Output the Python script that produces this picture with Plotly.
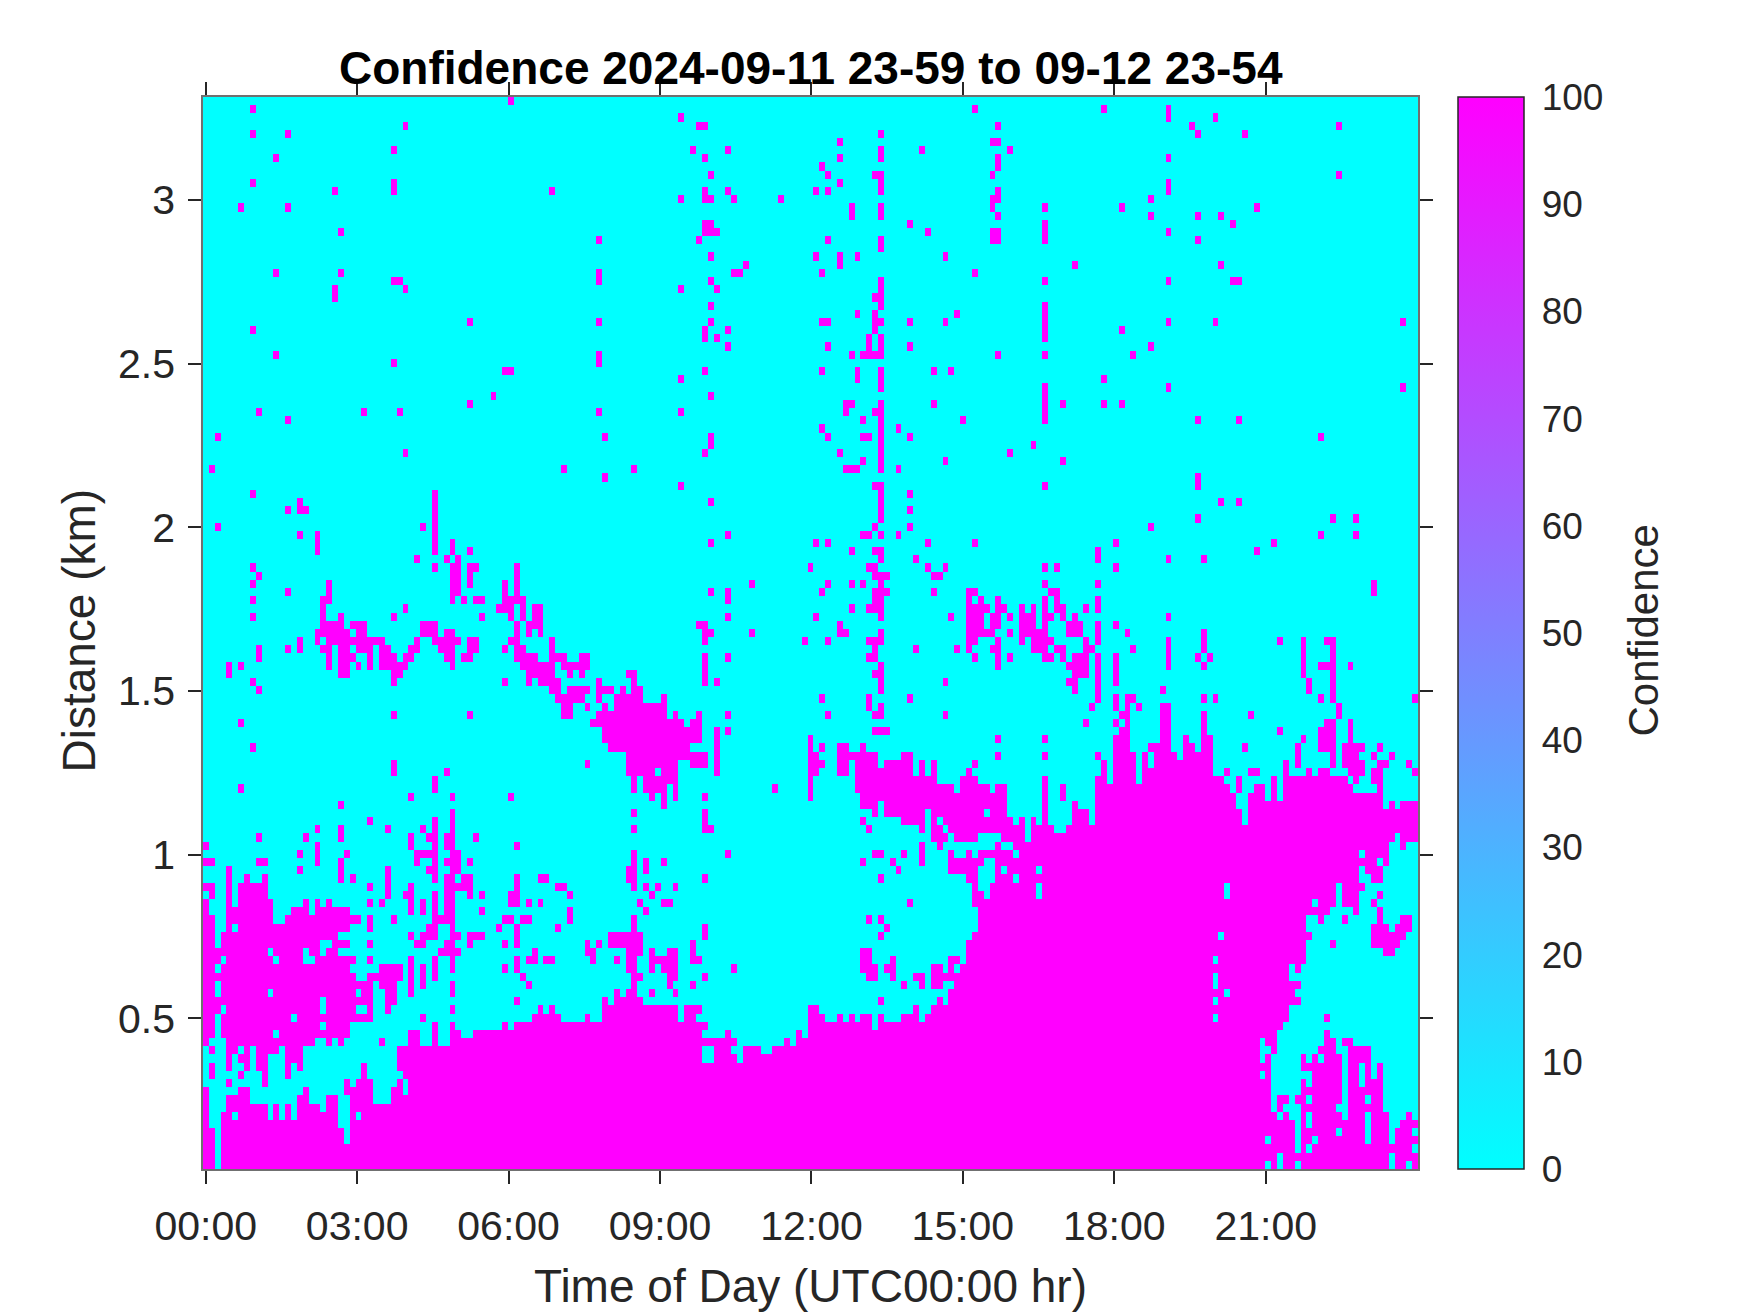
import numpy as np
import plotly.graph_objects as go

N_COLS = 207
N_ROWS = 131
AXIS_TOP_KM = 3.3146
ROW_KM = 0.025
AXIS_START_HR = -0.0535
COL_HR = 0.11628

TIME_TICKS = [0, 3, 6, 9, 12, 15, 18, 21]
TIME_LABELS = ["00:00", "03:00", "06:00", "09:00", "12:00", "15:00", "18:00", "21:00"]
DIST_TICKS = [0.5, 1, 1.5, 2, 2.5, 3]
DIST_LABELS = ["0.5", "1", "1.5", "2", "2.5", "3"]
CONF_TICKS = [0, 10, 20, 30, 40, 50, 60, 70, 80, 90, 100]

# Cells at confidence 100, one string per range gate from the top of the plot;
# every other cell is confidence 0. Entries are time-column indices or runs.
HIGH_CONF_CELLS = [
    "52",
    "8 131 153 164",
    "81 164 172",
    "34 84 85 135 168 193",
    "8 14 115 169 177",
    "108 134 135",
    "32 83 89 115 122 137",
    "12 85 108 115 135 164",
    "105 135",
    "86 106 114 115 134 193",
    "8 32 108 115 164",
    "22 32 59 85 89 104 106 115 135 164",
    "81 85 86 90 98 134 135 161",
    "6 14 110 115 134 143 156 179",
    "110 115 135 161 169 173",
    "85 86 120 143 175",
    "23 85-87 123 134 135 143 164",
    "67 84 106 115 134 135 143 169",
    "115",
    "86 104 108 111 126",
    "92 108 148 173",
    "12 23 67 90 91 105 131",
    "32 33 67 86 115 143 164 175 176",
    "22 34 81 87 115",
    "22 114 115",
    "86 115 143",
    "111 114 128 143",
    "45 67 86 105 106 114 115 120 126 143 164 172 204",
    "8 85 89 114 143 156",
    "85 87 113 115 143",
    "89 106 113 115 120 161",
    "12 67 110 112-115 135 143 158",
    "32 67",
    "51 52 85 105 111 115 124 127",
    "81 111 115 153",
    "115 143 164 204",
    "49 86 143",
    "45 109 110 115 124 143 146 153 156",
    "9 27 33 67 81 109 114 115 143",
    "14 112 115 129 143 169 176",
    "105 115 118",
    "2 68 86 106 112 113 115 120 190",
    "86 115 141",
    "34 85 108 115 137",
    "112 115 126 146",
    "1 61 73 109-111 115 118",
    "68 169",
    "81 114 115 143 169",
    "8 39 115 120",
    "16 39 86 115 173 176",
    "14 16 17 39 115 120",
    "39 115 169 192 196",
    "2 37 39 114 120 161",
    "16 19 39 89 112 113 115 118 190 196",
    "19 39 42 86 104 106 123 131 155 182",
    "19 39 42 45 110 114 115 152 179",
    "36 41 43 115 121 152 164 170",
    "8 39 42 43 45 46 53 103 113 114 123 126 143 145 155",
    "9 42 43 45 53 114-116 124 125",
    "8 21 42 43 45 51 53 93 106 110 112 115 143 152 199",
    "14 21 42 43 51 53 86 89 105 114-116 124 130 131 144 145 199",
    "8 20 21 42 44 46 47 51-54 89 114 115 130 132 135 143 145 152",
    "20 34 50-52 54 56 57 110 113-115 130-133 135 136 139 141 143 145 146 150 152",
    "8 20 23 32 47 52 54 56 57 89 104 115 127 130-132 134 135 137 139-141 143 144 146 148 164",
    "20-23 25-27 37-39 53 55-57 84 85 108 130-132 134 135 139-141 143 147-149 152 155",
    "19-24 26 27 37-39 41 42 53 55 57 85 86 93 108 109 115 130-134 137 139-143 147-149 152 157 170",
    "16 19 21-30 36 39-43 45 46 52 53 59 85 102 106 113-115 130 131 135 139 141-144 150 152 164 170 183 187 191 192",
    "9 14 16 20 21 23 24 26-28 30 31 35 36 40-42 45 46 51 53 54 59 114 121 128 130 134 135 141-143 145 146 150 151 158 164 170 187 192",
    "9 21 23-25 28 30-32 34 35 41 42 44 45 53-56 59-61 64 65 85 89 113 114 131 135 137 143 144 146 148-150 152 155 164 169 171 187 192",
    "4 6 21 23 24 26 28 30-34 42 54-59 61-65 85 115 135 147-150 152 155 164 170 187 190-192 195",
    "4 23 24 32 33 55-59 62 64 72 73 85 114 115 148-150 152 155 187 192",
    "8 32 51 55 57-60 67 73 85 87 115 126 147 148 152 155 188 192",
    "9 59 60 62-65 67-69 71 73 74 115 148 152 163 188 192",
    "60-64 67 70-74 78 105 113 120 152 155 157 158 170 172 190 192 206",
    "61 62 65 68 70-78 113 115 151 155 157 159 163 164 193",
    "32 45 61 62 67-78 80 84 89 106 114 115 126 156 157 163 164 170 178 193",
    "6 66-81 83 84 150 155 157 163 164 170 191 192 195",
    "68-84 87 89 114-116 156 157 163 164 170 183 190-192 195",
    "68-84 87 103 135 143 155-157 163 164 167 170 171 187 190-192 195",
    "8 69-82 87 103 105 108 109 112 155-157 161-164 167 168 170 171 177 186 190-192 194-197 200",
    "72-85 87 103 104 108-114 119 120 135 143 152 155-158 160 162-165 167-171 186 192 194-196 199 202",
    "32 65 72-80 83-85 87 103-105 108 109 111-114 116-120 122 124 131 153 155-158 160 162-171 184 186 192 194-197 200 201 205",
    "32 41 72-76 78-80 87 103 104 108 109 111-120 122 124 130 153 155-158 160-171 174 178 179 184 188 190 191 195-197 199 200 206",
    "39 73 75-80 103 111-124 129-131 143 152 153 155-158 160-173 176 182 184-194 196 199 200",
    "6 39 73 75-78 80 97 103 111-127 129-133 135 136 143 146 152-174 176 179 180 182 184-195 200",
    "35 42 52 76 78 80 85 103 112-136 143 146 152-175 178-180 182 184-200",
    "23 78 112-114 116-136 143 148 152-175 178-200 202 204-206",
    "42 73 85 114 116-122 124-132 134-136 143 148-150 152-176 178-206",
    "28 39 42 85 112 119-122 124 126-137 139 141 143 148-150 152-176 178-206",
    "19 23 31 37 39 42 73 85 86 113 122 124 125 127-139 141-144 147-206",
    "9 17 23 35 38 39 41 42 46 124-126 128-131 136-139 141-202 204-206",
    "0 19 35 39 41 42 53 122 125 135 138-201 204",
    "16 19 24 36-39 42 43 73 89 114 115 119 122 127 130 132-137 139-196 198-201",
    "0 1 9 10 19 23 36 39 41-43 45 73 75 78 112 117 122 127-132 135-199 201",
    "4 16 23 31 38 39 42 43 72 73 75 118 127-131 135 137-141 143-196 198-200",
    "4 7 10 23 25 31 39 41 42 44 45 53 57 58 72 73 85 115 130 131 135-137 139-196 199 200",
    "0 1 4 6-10 28 31 35 41-45 53 60 61 73 75 77 80 131 134-141 143-173 175-192 194-197",
    "1 4 6-10 31 34 35 39 41 42 45 47 52 53 62 76 131 132 134-141 143-173 175-192 194-196 200",
    "0 4 6-11 17 19 21 28 30 35 37 39 41 42 52 53 55 57 74 78 79 120 131-188 190-192 194-196 199",
    "0 4-11 15-17 19-24 35 37 39 41 42 47 62 75 132-191 196 200",
    "0 1 4-11 14-26 28 32 39-42 51 52 54 55 62 73 113 115 132-187 190 194 200 204 205",
    "0 1 4 6-24 28 38 39 42 50 53 60 73 85 116 132-187 199-201 203-205",
    "0 1 3-22 35 37-39 42 43 45-47 53 69-74 85 115 131-172 174-188 199-204",
    "0 1 3-19 22-24 28 36 37 41 42 45 51 53 65 67 69-74 83 130-187 192 199-203",
    "0-10 12-16 18 19 21 22 40-43 56 65 66 72-74 76 79 80 83 112 113 130-187 201 202",
    "0-2 4-11 13-16 19-25 28 35 39 42 53 55 56 58 59 66 70 72 73 76-80 83 84 112 113 117 127 128 130-171 173-187",
    "0 1 3-24 30-33 35 37 39 42 51 53 72 73 76 78-80 90 112-114 116 117 124 125 127 129-184 186",
    "0-25 28-33 35 37 39 54 73 74 79 80 85 113 114 117 121 122 124-171 173-184",
    "0 1 3-28 30-32 35 37 42 55 73 79 83 119 122 124 125 128-171 173-186",
    "0 1 3-10 12-25 27 28 31 32 35 42 70 72 73 76 80 127-173 175-185",
    "0-19 21-28 31 32 53 68 70-74 115 125 127-171 173-186",
    "0-2 4-19 21-25 28 31 42 57 59 68-80 82-84 103 104 121 124-184",
    "0 1 3-14 16-28 37 56-60 65 68-80 82 83 103-105 108 110 112 113 115 119-121 123-171 173-184 191",
    "0 1 3-19 21-24 39 42 51 53-85 103-113 115-183",
    "0 1 3-11 13-24 35 36 39 42 43 46-84 89 101 103-182 191",
    "0 4-18 21 23 30 35 36 39 42-90 99 101-179 181 182 191 192 194 195",
    "1 4 5 7 9-12 14-16 33-84 87-89 92-94 97-179 182 190-192 195-198",
    "4 6 7 9 10 14-16 33-84 87-90 92-179 181 187 189 191-193 195-198",
    "1 4 7 9 10 14 16 27 33-181 187-193 195 196 198 200",
    "1 6 10 14 27 34-179 181 189-193 195 196 198 200",
    "4 10 24 26-28 33 35-181 187 189-193 195 196 198-200",
    "0 6 7 17 24-28 32 33 35-181 187-193 195-200",
    "0 4-7 16 17 21 22 25-28 32-181 183 184 186 187 189-193 195-197 199 200",
    "0 4-10 12 14 16-19 21 22 25-181 183 187-192 195-200",
    "0 3 4 6-10 12 14 16-22 25 27-182 184 187 189-193 195-197 199-201 205",
    "0 3-22 25-185 187 189-197 199-201 204-206",
    "0 1 3-23 25-185 187-192 194-197 199-201 203-205",
    "0 1 3-23 25-180 182-185 187 188 190-197 199-201 203-206",
    "0 1 3-185 187 189-205",
    "0 1 3-182 184-201 203-206",
    "0 1 3-180 182 184 185 187-201 203 204 206",
]

z = np.zeros((N_ROWS, N_COLS))
for row, cells in enumerate(HIGH_CONF_CELLS):
    for item in cells.split():
        a, _, b = item.partition("-")
        z[row, int(a): int(b or a) + 1] = 100

hours = AXIS_START_HR + (np.arange(N_COLS) + 0.5) * COL_HR
km = AXIS_TOP_KM - (np.arange(N_ROWS) + 0.5) * ROW_KM

W, H = 1750, 1313
L, R, T, B = 203.3, 1418.3, 97.3, 1169.0
PW, PH = R - L, B - T
CB_L, CB_R = 1458.0, 1524.0
INK = "#262626"
FONT = "Liberation Sans, Arial, sans-serif"


def px(x):
    return (x - L) / PW


def py(y):
    return (B - y) / PH


fig = go.Figure(go.Heatmap(
    x=hours, y=km, z=z, zmin=0, zmax=100, zsmooth=False,
    colorscale=[[0, "#00ffff"], [1, "#ff00ff"]],
    colorbar=dict(
        thickness=CB_R - CB_L, thicknessmode="pixels", lenmode="fraction",
        len=1, y=0, yanchor="bottom",
        x=px(CB_L), xanchor="left", xpad=0, ypad=0,
        outlinecolor=INK, outlinewidth=1.5,
        tickmode="array", tickvals=CONF_TICKS, ticks="outside", ticklen=10,
        tickwidth=1.5, tickcolor="rgba(0,0,0,0)",
        tickfont=dict(family=FONT, size=37, color=INK),
    ),
))
axis_style = dict(showgrid=False, zeroline=False, ticks="outside", ticklen=13,
                  tickwidth=1.5, tickcolor=INK, showline=True, linecolor="#707070",
                  linewidth=1.5, mirror="ticks", automargin=False,
                  tickfont=dict(family=FONT, size=41, color=INK))
conf_tick_marks = [
    dict(type="line", xref="paper", yref="paper",
         x0=px(CB_R - 8), x1=px(CB_R), y0=v / 100, y1=v / 100,
         line=dict(color=INK, width=1.5), layer="above")
    for v in CONF_TICKS[1:-1]
]
fig.update_layout(
    width=W, height=H, autosize=False, paper_bgcolor="white", plot_bgcolor="white",
    margin=dict(l=L, r=W - R, t=T, b=H - B, pad=0, autoexpand=False),
    font=dict(family=FONT),
    xaxis=dict(range=[AXIS_START_HR, AXIS_START_HR + N_COLS * COL_HR],
               tickmode="array", tickvals=TIME_TICKS, ticktext=TIME_LABELS,
               ticklabelstandoff=7, **axis_style),
    yaxis=dict(range=[AXIS_TOP_KM - N_ROWS * ROW_KM, AXIS_TOP_KM],
               tickmode="array", tickvals=DIST_TICKS, ticktext=DIST_LABELS,
               ticklabelstandoff=5, **axis_style),
    shapes=conf_tick_marks,
    annotations=[
        dict(text="<b>Confidence 2024-09-11 23-59 to 09-12 23-54</b>", xref="paper", yref="paper",
             x=px(811), y=py(68), xanchor="center", yanchor="middle", showarrow=False,
             font=dict(family=FONT, size=46, color="black")),
        dict(text="Time of Day (UTC00:00 hr)", xref="paper", yref="paper",
             x=px(811), y=py(1286), xanchor="center", yanchor="middle", showarrow=False,
             font=dict(family=FONT, size=46, color=INK)),
        dict(text="Distance (km)", xref="paper", yref="paper", textangle=-90,
             x=px(79), y=py(631), xanchor="center", yanchor="middle", showarrow=False,
             font=dict(family=FONT, size=46, color=INK)),
        dict(text="Confidence", xref="paper", yref="paper", textangle=-90,
             x=px(1644), y=py(631), xanchor="center", yanchor="middle", showarrow=False,
             font=dict(family=FONT, size=42, color=INK)),
    ],
)
fig.write_html("out.html", config={"displayModeBar": False},
               post_script="document.body.style.margin='0';document.body.style.overflow='hidden';")
